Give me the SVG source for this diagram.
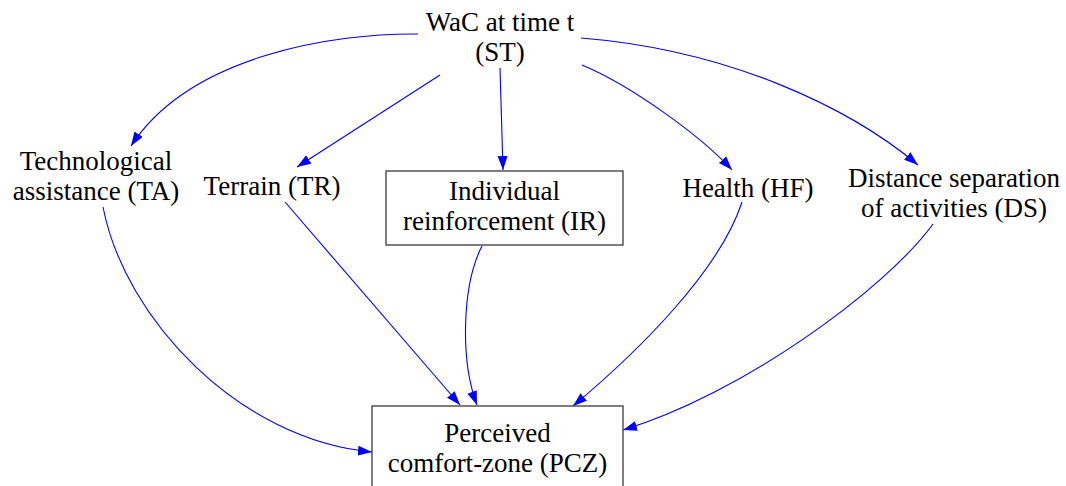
<svg xmlns="http://www.w3.org/2000/svg" width="1066" height="486" viewBox="0 0 1066 486" font-family="'Liberation Serif', 'Times New Roman', 'DejaVu Serif', serif">
  <style>
    text { font-family: 'Liberation Serif', 'Times New Roman', 'DejaVu Serif', serif; font-size: 27px; fill: #000; text-anchor: middle; }
    .box { fill: #fff; stroke: #3a3a3a; stroke-width: 1.3; }
    .edge { fill: none; stroke: #0000ff; stroke-width: 1.1; marker-end: url(#arrow); }
  </style>
  <defs>
    <marker id="arrow" markerUnits="userSpaceOnUse" markerWidth="15" markerHeight="11" refX="14" refY="5" orient="auto">
      <path d="M0,0 L14,5 L0,10 z" fill="#0000ff"/>
    </marker>
  </defs>
  <rect width="1066" height="486" fill="#fff"/>

  <!-- connectors -->
  <g id="edges">
    <path class="edge" d="M418,34 C335,33 190,55 131,146"/>
    <path class="edge" d="M440,75 L297,167"/>
    <path class="edge" d="M500,68 L503,170"/>
    <path class="edge" d="M582,65 C630,85 700,135 732,170"/>
    <path class="edge" d="M581,38 C730,50 850,108 918,165"/>
    <path class="edge" d="M103,207 C125,320 240,440 372,452"/>
    <path class="edge" d="M285,202 L460,405"/>
    <path class="edge" d="M482,246 C462,285 460,360 477,405"/>
    <path class="edge" d="M742,202 C720,270 640,350 573,406"/>
    <path class="edge" d="M933,224 C885,290 740,395 623,430"/>
  </g>

  <g id="ST">
    <text x="500" y="31">WaC at time t</text>
    <text x="500" y="61">(ST)</text>
  </g>
  <g id="TA">
    <text x="96" y="170">Technological</text>
    <text x="96" y="200">assistance (TA)</text>
  </g>
  <g id="TR">
    <text x="272" y="195">Terrain (TR)</text>
  </g>
  <g id="IR">
    <rect class="box" x="386" y="171" width="237" height="74"/>
    <text x="504.5" y="200">Individual</text>
    <text x="504.5" y="230">reinforcement (IR)</text>
  </g>
  <g id="HF">
    <text x="748" y="197">Health (HF)</text>
  </g>
  <g id="DS">
    <text x="954" y="187">Distance separation</text>
    <text x="954" y="217">of activities (DS)</text>
  </g>
  <g id="PCZ">
    <rect class="box" x="372" y="406" width="251" height="100"/>
    <text x="497.5" y="442">Perceived</text>
    <text x="497.5" y="472">comfort-zone (PCZ)</text>
  </g>
</svg>
